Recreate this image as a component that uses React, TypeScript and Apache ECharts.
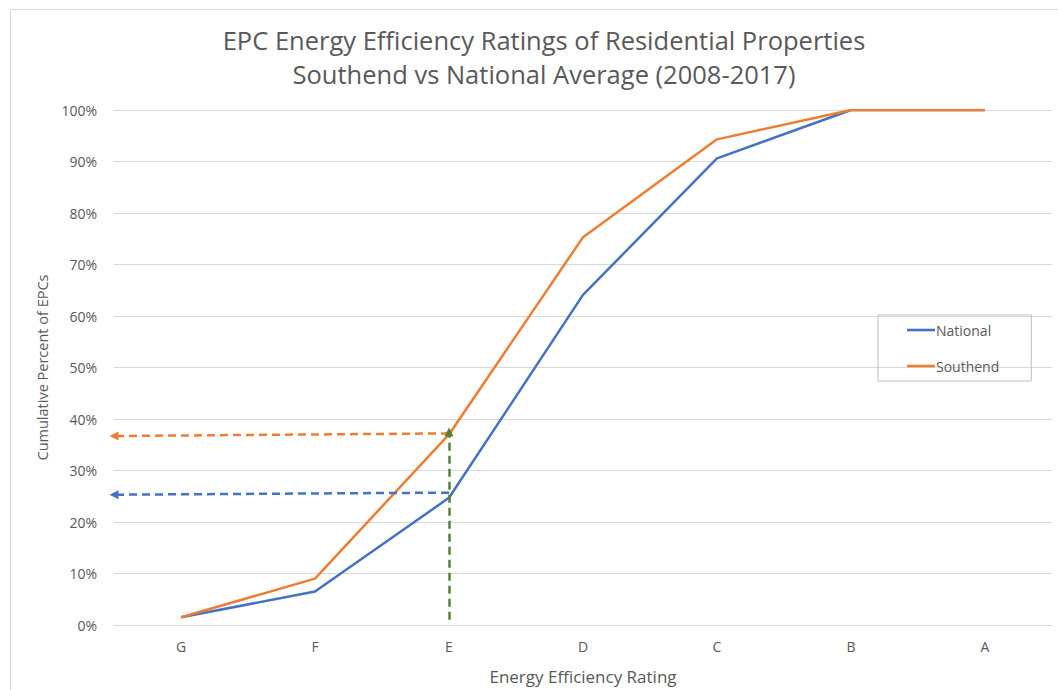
import React, { useEffect, useRef } from "react";
import * as echarts from "echarts";

const ratings = ["G", "F", "E", "D", "C", "B", "A"];
const nationalPct = [1.5, 6.5, 24.7, 64.1, 90.6, 100, 100];
const southendPct = [1.5, 9.0, 37.0, 75.3, 94.3, 100, 100];
const yTicks = [0, 10, 20, 30, 40, 50, 60, 70, 80, 90, 100];
// reference lines: [fromX, fromY] -> [toX, toY] in (category-slot, percent) units
const southendArrow = [[2.5, 37.2], [0, 36.7]];
const nationalArrow = [[2.5, 25.7], [0, 25.3]];
const eMarker = [[2.5, 1], [2.5, 37.5]];

const FONT = "Open Sans";
const GREY = "#595959";
const BLUE = "#4472C4";
const ORANGE = "#ED7D31";
const GREEN = "#548235";

export default function App() {
  const ref = useRef<HTMLDivElement>(null);
  useEffect(() => {
    document.body.style.margin = "0";
    const chart = echarts.init(ref.current!, null, { renderer: "svg" });
    const dash = (color: string) => ({ color, width: 2.5, type: [8, 5] });
    chart.setOption({
      animation: false,
      textStyle: { fontFamily: FONT },
      title: {
        text: "EPC Energy Efficiency Ratings of Residential Properties\nSouthend vs National Average (2008-2017)",
        left: 539,
        top: 18,
        textAlign: "center",
        textStyle: { fontFamily: FONT, fontSize: 25.5, fontWeight: "normal", color: GREY, lineHeight: 34 },
      },
      graphic: [
        {
          type: "rect",
          shape: { x: 10.5, y: 9.5, width: 1060, height: 700 },
          style: { fill: "none", stroke: "#d9d9d9", lineWidth: 1 },
          silent: true,
        },
      ],
      grid: { left: 114, right: 6, top: 110, bottom: 50 },
      legend: {
        data: ["National", "Southend"],
        orient: "vertical",
        left: 878,
        top: 315,
        padding: [8, 32, 8, 29],
        borderColor: "#bfbfbf",
        borderWidth: 1,
        icon: "path://M0,0H28V2.6H0Z",
        itemWidth: 28,
        itemHeight: 14,
        itemGap: 22,
        textStyle: { fontFamily: FONT, fontSize: 14, color: GREY, padding: [0, 0, 0, -4] },
      },
      xAxis: [
        {
          type: "category",
          data: ratings,
          boundaryGap: true,
          axisLine: { show: true, lineStyle: { color: "#d9d9d9" } },
          axisTick: { show: false },
          axisLabel: { color: GREY, fontSize: 14, margin: 14 },
          name: "Energy Efficiency Rating",
          nameLocation: "middle",
          nameGap: 43,
          nameTextStyle: { color: GREY, fontSize: 17, fontFamily: FONT },
        },
        { type: "value", min: 0, max: 7, show: false },
      ],
      yAxis: {
        type: "value",
        min: yTicks[0],
        max: yTicks[yTicks.length - 1],
        interval: 10,
        axisLabel: { formatter: "{value}%", color: GREY, fontSize: 14, margin: 17 },
        axisLine: { show: false },
        axisTick: { show: false },
        splitLine: { lineStyle: { color: "#d9d9d9", width: 1 } },
        name: "Cumulative Percent of EPCs",
        nameLocation: "middle",
        nameGap: 64,
        nameTextStyle: { color: GREY, fontSize: 14.5, fontFamily: FONT },
      },
      series: [
        {
          name: "National",
          type: "line",
          data: nationalPct,
          symbol: "none",
          lineStyle: { color: BLUE, width: 2.5 },
          itemStyle: { color: BLUE },
        },
        {
          name: "Southend",
          type: "line",
          data: southendPct,
          symbol: "none",
          lineStyle: { color: ORANGE, width: 2.5 },
          itemStyle: { color: ORANGE },
        },
        {
          name: "refs",
          type: "line",
          xAxisIndex: 1,
          data: [],
          silent: true,
          markLine: {
            silent: true,
            symbol: ["none", "triangle"],
            symbolSize: [9, 9],
            label: { show: false },
            emphasis: { disabled: true },
            data: [
              [
                { coord: southendArrow[0], lineStyle: dash(ORANGE), itemStyle: { color: ORANGE } },
                { coord: southendArrow[1] },
              ],
              [
                { coord: nationalArrow[0], lineStyle: dash(BLUE), itemStyle: { color: BLUE } },
                { coord: nationalArrow[1] },
              ],
              [
                { coord: eMarker[0], lineStyle: dash(GREEN), itemStyle: { color: GREEN } },
                { coord: eMarker[1] },
              ],
            ],
          },
        },
      ],
    });
    return () => chart.dispose();
  }, []);
  return <div ref={ref} style={{ width: 1058, height: 690 }} />;
}
